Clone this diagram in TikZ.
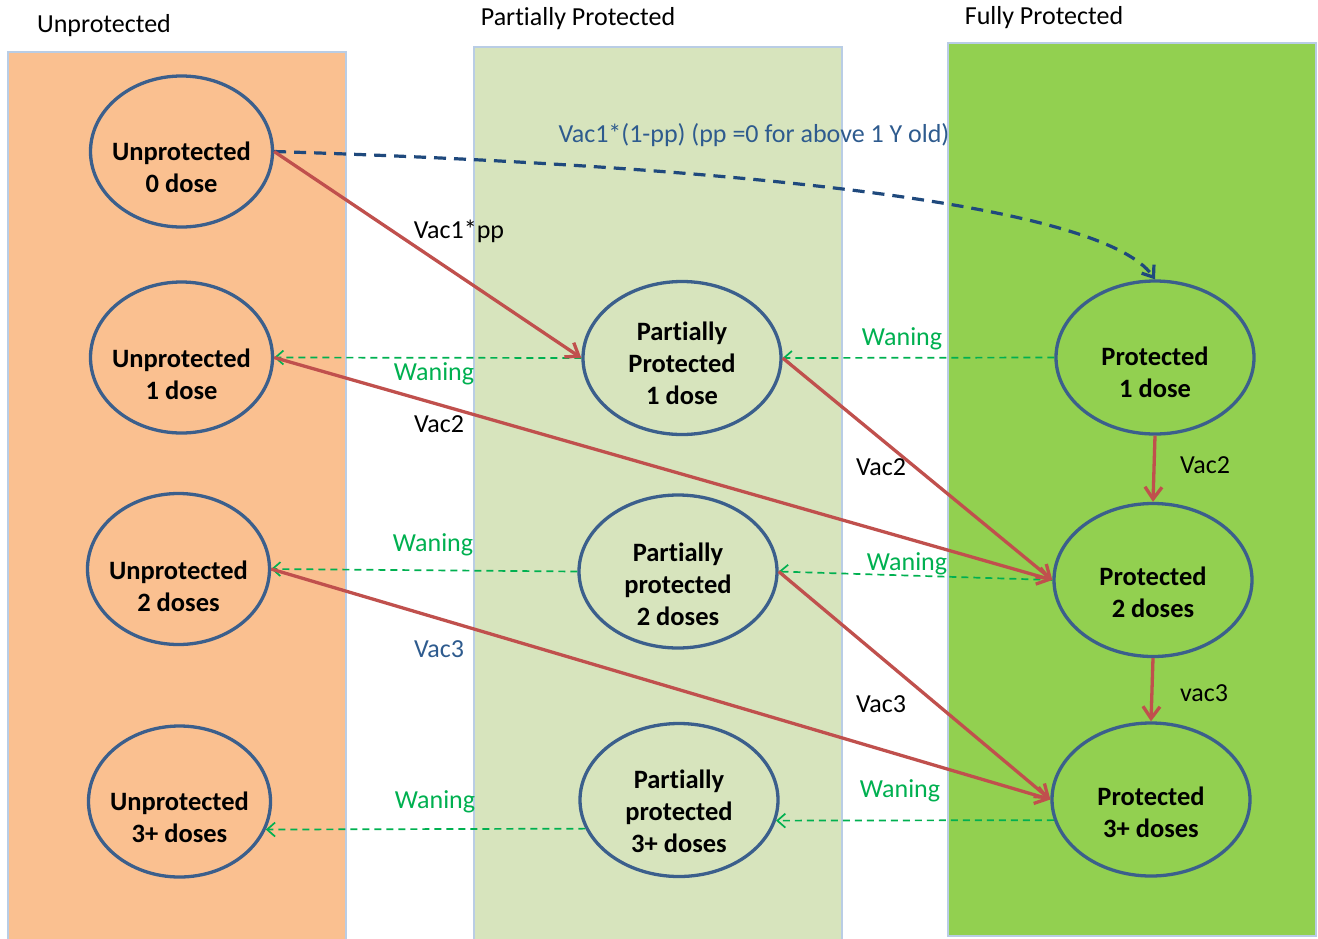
\documentclass[tikz,border=0pt]{standalone}
\usepackage{fontspec}
\setmainfont{Carlito}[Ligatures={NoCommon}]
\usetikzlibrary{arrows.meta,shapes.geometric}
\definecolor{orangebg}{HTML}{FAC090}
\definecolor{ltgreenbg}{HTML}{D7E4BD}
\definecolor{greenbg}{HTML}{92D050}
\definecolor{boxline}{HTML}{B9CDE5}
\definecolor{ellline}{HTML}{3B5F8C}
\definecolor{redarr}{HTML}{C0504D}
\definecolor{wangreen}{HTML}{00B050}
\definecolor{dblue}{HTML}{1F497D}
\definecolor{lblue}{HTML}{2E5B8E}
\newcommand{\tl}[1]{\begin{tabular}{@{}c@{}}#1\end{tabular}}
\newcommand{\tikern}{t\kern0pt i}
\begin{document}
\begin{tikzpicture}[x=1pt,y=-1pt,
  panel/.style={draw=boxline,line width=2.5pt},
  heading/.style={anchor=base,inner sep=0pt,font=\fontsize{26}{32}\selectfont},
  ustate/.style={ellipse,draw=ellline,line width=3.3pt,inner sep=0pt,minimum width=182pt,minimum height=151pt},
  pstate/.style={ellipse,draw=ellline,line width=3.3pt,inner sep=0pt,minimum width=198pt,minimum height=153pt},
  stext/.style={inner sep=0pt,font=\bfseries\fontsize{26.5}{32}\selectfont},
  lbl/.style={anchor=base,inner sep=0pt,font=\fontsize{26}{32}\selectfont},
  glbl/.style={lbl,text=wangreen},
  vac/.style={draw=redarr,line width=3.3pt,-{Straight Barb[length=12pt,width=17pt]}},
  wane/.style={draw=wangreen,line width=1.7pt,dash pattern=on 7pt off 5pt,-{Straight Barb[length=8pt,width=14pt]}},
  vacone/.style={draw=dblue,line width=3.2pt,dash pattern=on 12pt off 8pt,-{Straight Barb[length=10pt,width=15pt]}}]
\useasboundingbox (0,0) rectangle (1318,938);
% panels
\fill[orangebg] (8,52) rectangle (346,940);
\draw[panel] (8,52) rectangle (346,940);
\fill[ltgreenbg] (474,47) rectangle (842,940);
\draw[panel] (474,47) rectangle (842,940);
\fill[greenbg] (948,43) rectangle (1316,936);
\draw[panel] (948,43) rectangle (1316,936);
% headings
\node[heading] (h1) at (104,32) {Unprotected};
\node[heading] (h2) at (578,25) {Par\tikern ally Protected};
\node[heading] (h3) at (1044,24) {Fully Protected};
% states
\node[ustate] (U0) at (181.5,151.5) {};
\node[ustate] (U1) at (181.5,357.5) {};
\node[ustate] (U2) at (178.5,569) {};
\node[ustate] (U3) at (179.5,801.5) {};
\node[pstate] (P1) at (682,358) {};
\node[pstate] (P2) at (678,571.5) {};
\node[pstate] (P3) at (679,800) {};
\node[pstate] (F1) at (1155,357.5) {};
\node[pstate] (F2) at (1153,580) {};
\node[pstate] (F3) at (1151,799.5) {};
\node[stext] (tU0) at (181.5,170) {\tl{Unprotected\\0 dose}};
\node[stext] (tU1) at (181.5,377) {\tl{Unprotected\\1 dose}};
\node[stext] (tU2) at (178.5,589) {\tl{Unprotected\\2 doses}};
\node[stext] (tU3) at (179.5,820) {\tl{Unprotected\\3+ doses}};
\node[stext] (tP1) at (682,366) {\tl{Par\tikern ally\\Protected\\1 dose}};
\node[stext] (tP2) at (678,587) {\tl{Par\tikern ally\\protected\\2 doses}};
\node[stext] (tP3) at (679,814) {\tl{Par\tikern ally\\protected\\3+ doses}};
\node[stext] (tF1) at (1155,375) {\tl{Protected\\1 dose}};
\node[stext] (tF2) at (1153,595) {\tl{Protected\\2 doses}};
\node[stext] (tF3) at (1151,815) {\tl{Protected\\3+ doses}};
% waning
\draw[wane] (P1.west) -- (U1.east);
\draw[wane] (F1.west) -- (P1.east);
\draw[wane] (P2.west) -- (U2.east);
\draw[wane] (F2.west) -- (P2.east);
\draw[wane] (P3.197) -- (U3.-18);
\draw[wane] (F3.192) -- (P3.-12);
% vaccination
\draw[vacone] (U0.east) .. controls (700,165) and (1100,200) .. (F1.north);
\draw[vac] (U0.east) -- (P1.west);
\draw[vac] (U1.east) -- (F2.west);
\draw[vac] (P1.east) -- (F2.west);
\draw[vac] (F1.south) -- (F2.north);
\draw[vac] (U2.east) -- (F3.west);
\draw[vac] (P2.east) -- (F3.west);
\draw[vac] (F2.south) -- (F3.north);
% labels
\node[lbl,text=lblue] (l14) at (754,142) {Vac1*(1-pp) (pp =0 for above 1 Y old)};
\node[lbl] (l1) at (459,238) {Vac1*pp};
\node[glbl] (l2) at (434,380) {Waning};
\node[lbl] (l3) at (439,432) {Vac2};
\node[glbl] (l4) at (902,345) {Waning};
\node[lbl] (l5) at (881,475) {Vac2};
\node[lbl] (l6) at (1205,473) {Vac2};
\node[glbl] (l7) at (433,551) {Waning};
\node[glbl] (l8) at (907,570) {Waning};
\node[lbl,text=lblue] (l9) at (439,657) {Vac3};
\node[lbl] (l10) at (881,712) {Vac3};
\node[lbl] (l11) at (1204,701) {vac3};
\node[glbl] (l12) at (435,808) {Waning};
\node[glbl] (l13) at (900,797) {Waning};
\end{tikzpicture}
\end{document}
